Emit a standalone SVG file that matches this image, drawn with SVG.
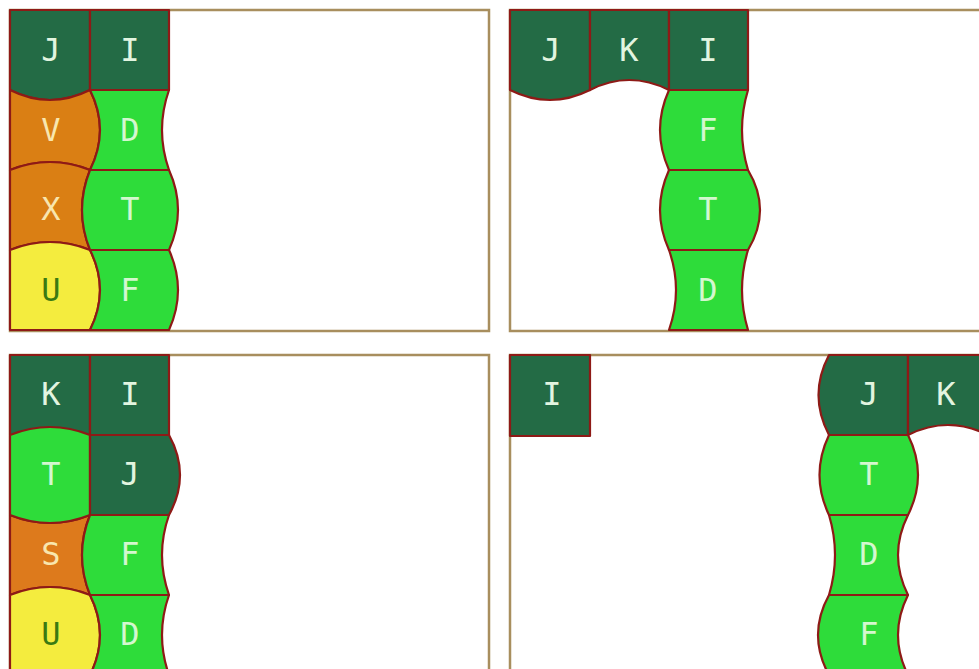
<svg xmlns="http://www.w3.org/2000/svg" width="979" height="669" viewBox="0 0 979 669">
<style>
.frame{fill:#fff;stroke:#a88e5e;stroke-width:2.5}
.c{stroke:#8e1a16;stroke-width:2.2;stroke-linejoin:round}
.dk{fill:#236b45}
.gr{fill:#2edc3a}
.or{fill:#da7f14}
.ye{fill:#f4ec3e}
text{font-family:"DejaVu Sans Mono","Liberation Mono",monospace;font-size:32px;text-anchor:middle}
.tl{fill:#e2f5e0}
.tg{fill:#d4f7cf}
.to{fill:#f8e6ae}
.ty{fill:#3a7a12}
</style>
<rect width="979" height="669" fill="#fff"/>
<rect class="frame" x="10" y="10" width="479" height="321"/>
<rect class="frame" x="510" y="10" width="480" height="321"/>
<rect class="frame" x="10" y="355" width="479" height="330"/>
<rect class="frame" x="510" y="355" width="480" height="330"/>

<g id="p1">
<g id="p1-J"><path class="c dk" d="M10,10 H90 V90 Q50,110 10,90 Z"/><text class="tl" x="51" y="61">J</text></g>
<g id="p1-I"><path class="c dk" d="M90,10 H169 V90 H90 Z"/><text class="tl" x="130" y="61">I</text></g>
<g id="p1-V"><path class="c or" d="M10,90 Q50,110 90,90 Q110,130 90,170 Q50,154 10,170 Z"/><text class="to" x="51" y="141">V</text></g>
<g id="p1-D"><path class="c gr" d="M90,90 H169 Q155,130 169,170 H90 Q110,130 90,90 Z"/><text class="tg" x="130" y="141">D</text></g>
<g id="p1-X"><path class="c or" d="M10,170 Q50,154 90,170 Q74,210 90,250 Q50,234 10,250 Z"/><text class="to" x="51" y="220">X</text></g>
<g id="p1-T"><path class="c gr" d="M90,170 H169 Q187,210 169,250 H90 Q74,210 90,170 Z"/><text class="tg" x="130" y="220">T</text></g>
<g id="p1-U"><path class="c ye" d="M10,250 Q50,234 90,250 Q110,290 90,330 H10 Z"/><text class="ty" x="51" y="301">U</text></g>
<g id="p1-F"><path class="c gr" d="M90,250 H169 Q187,290 169,330 H90 Q110,290 90,250 Z"/><text class="tg" x="130" y="301">F</text></g>
</g>

<g id="p2">
<g id="p2-J"><path class="c dk" d="M510,10 H590 V90 Q550,110 510,90 Z"/><text class="tl" x="551" y="61">J</text></g>
<g id="p2-K"><path class="c dk" d="M590,10 H669 V90 Q629,70 590,90 Z"/><text class="tl" x="629" y="61">K</text></g>
<g id="p2-I"><path class="c dk" d="M669,10 H748 V90 H669 Z"/><text class="tl" x="708" y="61">I</text></g>
<g id="p2-F"><path class="c gr" d="M669,90 H748 Q736,130 748,170 H669 Q651,130 669,90 Z"/><text class="tg" x="708" y="141">F</text></g>
<g id="p2-T"><path class="c gr" d="M669,170 H748 Q772,210 748,250 H669 Q651,210 669,170 Z"/><text class="tg" x="708" y="220">T</text></g>
<g id="p2-D"><path class="c gr" d="M669,250 H748 Q736,290 748,330 H669 Q683,290 669,250 Z"/><text class="tg" x="708" y="301">D</text></g>
</g>

<g id="p3">
<g id="p3-K"><path class="c dk" d="M10,355 H90 V435 H10 Z"/><text class="tl" x="51" y="405">K</text></g>
<g id="p3-I"><path class="c dk" d="M90,355 H169 V435 H90 Z"/><text class="tl" x="130" y="405">I</text></g>
<g id="p3-S"><path class="c or" d="M10,515 Q50,531 90,515 Q74,555 90,595 Q50,579 10,595 Z" style="fill:#dd7a1c"/><text class="to" x="51" y="565">S</text></g>
<g id="p3-T"><path class="c gr" d="M10,435 Q50,419 90,435 V515 Q50,531 10,515 Z"/><text class="tg" x="51" y="485">T</text></g>
<g id="p3-J"><path class="c dk" d="M90,435 H169 Q191,475 169,515 H90 Z"/><text class="tl" x="130" y="485">J</text></g>
<g id="p3-F"><path class="c gr" d="M90,515 H169 Q155,555 169,595 H90 Q74,555 90,515 Z"/><text class="tg" x="130" y="565">F</text></g>
<g id="p3-U"><path class="c ye" d="M10,595 Q50,579 90,595 Q110,635 90,675 H10 Z"/><text class="ty" x="51" y="645">U</text></g>
<g id="p3-D"><path class="c gr" d="M90,595 H169 Q155,635 169,675 H90 Q110,635 90,595 Z"/><text class="tg" x="130" y="645">D</text></g>
</g>

<g id="p4">
<g id="p4-I"><path class="c dk" d="M510,355 H590 V436 H510 Z"/><text class="tl" x="552" y="405">I</text></g>
<g id="p4-J"><path class="c dk" d="M829,355 H908 V435 H829 Q808,395 829,355 Z"/><text class="tl" x="869" y="405">J</text></g>
<g id="p4-K"><path class="c dk" d="M908,355 H988 V435 Q948,415 908,435 Z"/><text class="tl" x="946" y="405">K</text></g>
<g id="p4-T"><path class="c gr" d="M829,435 H908 Q928,475 908,515 H829 Q810,475 829,435 Z"/><text class="tg" x="869" y="485">T</text></g>
<g id="p4-D"><path class="c gr" d="M829,515 H908 Q888,555 908,595 H829 Q841,555 829,515 Z"/><text class="tg" x="869" y="565">D</text></g>
<g id="p4-F"><path class="c gr" d="M829,595 H908 Q888,635 908,675 H829 Q807,635 829,595 Z"/><text class="tg" x="869" y="645">F</text></g>
</g>
</svg>
